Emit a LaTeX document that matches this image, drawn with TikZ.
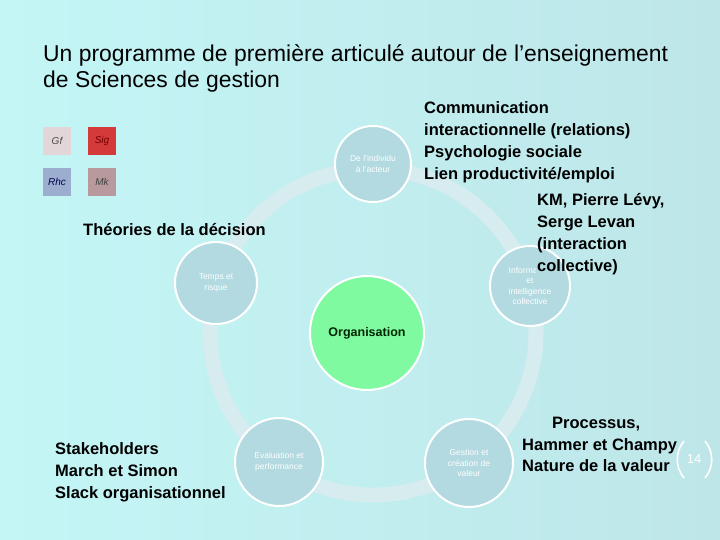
\documentclass[tikz,border=0pt]{standalone}
\usepackage{fontspec}
\setmainfont{Liberation Sans}
\definecolor{bgL}{RGB}{196,246,246}
\definecolor{bgR}{RGB}{190,230,233}
\definecolor{ringc}{RGB}{214,236,238}
\definecolor{circc}{RGB}{178,218,224}
\definecolor{orgc}{RGB}{128,250,160}
\definecolor{gfc}{RGB}{226,214,216}
\definecolor{sigc}{RGB}{212,58,58}
\definecolor{rhcc}{RGB}{156,174,208}
\definecolor{mkc}{RGB}{184,154,158}
\tikzset{
  txt/.style={anchor=base west, inner sep=0pt, font=\fontsize{16.5}{20}\selectfont\bfseries, text=black},
  ttl/.style={anchor=base west, inner sep=0pt, font=\fontsize{22.9}{27}\selectfont, text=black},
  smallc/.style={circle, draw=white, line width=2pt, fill=circc, inner sep=0pt, align=center,
     text=white, font=\fontsize{8.5}{10.5}\selectfont},
  icon/.style={minimum size=28pt, inner sep=0pt, font=\fontsize{10}{12}\selectfont\itshape},
}
\begin{document}
\begin{tikzpicture}[x=1pt,y=-1pt]
\shade[left color=bgL,right color=bgR] (0,0) rectangle (720,540);
\useasboundingbox (0,0) rectangle (720,540);

% title
\node[ttl] (t1) at (43,62) {Un programme de première articulé autour de l’enseignement};
\node[ttl] (t2) at (43,88) {de Sciences de gestion};

% icons
\node[icon, fill=gfc, text=black!70] (gf) at (57,141) {Gf};
\node[icon, fill=sigc, text=red!45!black] (sig) at (102,141) {Sig};
\node[icon, fill=rhcc, text=blue!30!black] (rhc) at (57,182) {Rhc};
\node[icon, fill=mkc, text=black!75] (mk) at (102,182) {Mk};

% ring
\coordinate (rc) at (373,332);
\draw[ringc, line width=15pt] (rc) circle[radius=163pt];

% circles
\node[smallc, minimum size=76pt] (indiv) at (373,164) {De l'individu\\à l'acteur};
\node[smallc, minimum size=82pt] (temps) at (216,283) {Temps et\\risque};
\node[smallc, minimum size=80pt] (info) at (530,286) {Information\\et\\intelligence\\collective};
\node[smallc, minimum size=88pt] (eval) at (279,462) {Evaluation et\\performance};
\node[smallc, minimum size=88pt] (gest) at (469,463) {Gestion et\\création de\\valeur};
\node[circle, draw=white, line width=2pt, fill=orgc, minimum size=114pt, inner sep=0pt,
  font=\fontsize{12.5}{15}\selectfont\bfseries, text=black!85!green] (org) at (367,333) {Organisation};

% hide part of "Information" under the black text
\begin{scope}
  \clip (info.center) circle[radius=38pt];
  \fill[circc] (536,257) rectangle (622,277);
\end{scope}

% text blocks
\node[txt] (th) at (83,236) {Théories de la décision};

\node[txt] (c1) at (424,114) {Communication};
\node[txt] (c2) at (424,136) {interactionnelle (relations)};
\node[txt] (c3) at (424,158) {Psychologie sociale};
\node[txt] (c4) at (424,180) {Lien productivité/emploi};

\node[txt] (k1) at (537,206) {KM, Pierre Lévy,};
\node[txt] (k2) at (537,227.5) {Serge Levan};
\node[txt] (k3) at (537,249) {(interaction};
\node[txt] (k4) at (537,271) {collective)};

\node[txt] (s1) at (55,454) {Stakeholders};
\node[txt] (s2) at (55,476) {March et Simon};
\node[txt] (s3) at (55,498) {Slack organisationnel};

\node[txt] (p1) at (552,428) {Processus,};
\node[txt] (p2) at (522,450) {Hammer et Champy};
\node[txt] (p3) at (522,471) {Nature de la valeur};

% page number
\node[inner sep=0pt, text=white, font=\fontsize{13}{15}\selectfont] (pn) at (694,459) {14};
\draw[white, line width=1.6pt] (684,441) .. controls (675,452) and (675,467) .. (684,478);
\draw[white, line width=1.6pt] (705,441) .. controls (714,452) and (714,467) .. (705,478);
\end{tikzpicture}
\end{document}
